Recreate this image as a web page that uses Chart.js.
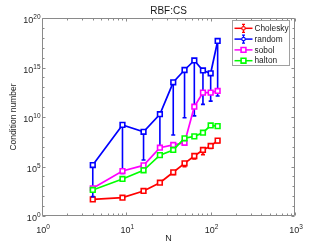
<!DOCTYPE html>
<html><head><meta charset="utf-8">
<script src="https://cdn.jsdelivr.net/npm/chart.js@4.4.1/dist/chart.umd.min.js"></script>
<style>html,body{margin:0;padding:0;background:#fff;}canvas{display:block;}</style>
</head><body>
<canvas id="c" width="327" height="245"></canvas>
<script>
// ---- data ----
const nValues = [4, 9, 16, 25, 36, 49, 64, 81, 100, 121];
const seriesNames = ['Cholesky', 'random', 'sobol', 'halton'];
const cholesky     = [48, 71, 340, 2.3e3, 2.6e4, 2.1e5, 1.15e6, 4.7e6, 1.2e7, 4.1e7];
const choleskyLow  = [40, 60, 280, 1.8e3, 1.6e4, 9.5e4, 5.8e5, 1.6e6, 6.8e6, 2.5e7];
const choleskyHigh = [60, 90, 430, 2.9e3, 3.3e4, 2.7e5, 1.5e6, 6.0e6, 1.5e7, 5.2e7];
const random       = [1.4e5, 1.6e9, 3.2e8, 1.9e10, 3.2e13, 5.6e14, 5.2e15, 5.0e14, 2.6e14, 4.8e17];
const randomLow    = [90, 2.0e4, 4.6e5, 8.0e6, 1.5e8, 8.5e9, 1.3e10, 1.9e11, 4.0e11, 1.3e12];
const randomHigh   = [1.8e5, 2.0e9, 4.1e8, 2.4e10, 4.1e13, 7.1e14, 6.6e15, 6.4e14, 3.3e14, 6.1e17];
const sobol        = [630, 3.5e4, 1.3e5, 8.0e6, 1.5e7, 2.5e7, 1.1e11, 2.9e12, 2.9e12, 4.3e12];
const halton       = [430, 5.5e3, 4.1e4, 1.4e6, 4.7e6, 7.1e7, 1.1e8, 2.6e8, 1.4e9, 1.2e9];
const xTickValues = [1, 10, 100, 1000];
const xTickExponents = ['0', '1', '2', '3'];
const yTickValues = [1, 1e5, 1e10, 1e15, 1e20];
const yTickExponents = ['0', '5', '10', '15', '20'];
const tickBase = '10';

const FONT = "'Liberation Sans', Arial, Helvetica, sans-serif";
const colors = ['#ff0000', '#0000ff', '#ff00ff', '#00ff00'];
const pts = arr => nValues.map((n, i) => ({x: n, y: arr[i]}));

function mkSet(i, arr, extra) {
  return Object.assign({
    label: seriesNames[i], data: pts(arr),
    borderColor: colors[i], backgroundColor: '#ffffff',
    pointBackgroundColor: '#ffffff', pointBorderColor: colors[i],
    pointStyle: 'rect', pointRadius: 3.3, pointBorderWidth: 1.6,
    borderWidth: 1.7, tension: 0, fill: false, order: 4 - i
  }, extra || {});
}

// axes box with inward ticks (MATLAB style)
const frame = {
  id: 'frame',
  beforeDatasetsDraw(chart) {
    const {ctx, chartArea: a, scales: {x, y}} = chart;
    ctx.save();
    ctx.strokeStyle = '#8a8a8a';
    ctx.lineWidth = 1;
    const L = Math.round(a.left) + 0.5, R = Math.round(a.right) - 0.5;
    const T = Math.round(a.top) + 0.5, B = Math.round(a.bottom) - 0.5;
    ctx.beginPath();
    ctx.rect(L, T, R - L, B - T);
    for (let e = 0; e <= 20; e++) {
      const py = Math.round(y.getPixelForValue(Math.pow(10, e))) + 0.5;
      const len = e % 5 === 0 ? 3 : 2;
      ctx.moveTo(L, py); ctx.lineTo(L + len, py);
      ctx.moveTo(R, py); ctx.lineTo(R - len, py);
    }
    for (let d = 0; d <= 3; d++) {
      for (let m = 1; m <= 9; m++) {
        if (d === 3 && m > 1) break;
        const px = Math.round(x.getPixelForValue(m * Math.pow(10, d))) + 0.5;
        const len = m === 1 ? 3 : 2;
        ctx.moveTo(px, B); ctx.lineTo(px, B - len);
        ctx.moveTo(px, T); ctx.lineTo(px, T + len);
      }
    }
    ctx.stroke();
    ctx.restore();
  }
};

// tick labels "10^k" with a raised exponent, placed at the scale's own ticks
const powerLabels = {
  id: 'powerLabels',
  afterDraw(chart) {
    const {ctx, scales: {x, y}} = chart;
    ctx.save();
    ctx.fillStyle = '#262626';
    ctx.textBaseline = 'alphabetic';
    ctx.textAlign = 'left';
    const big = '9px ' + FONT, small = '6.5px ' + FONT;
    y.ticks.forEach((t, i) => {
      const py = y.getPixelForValue(t.value);
      const ex = yTickExponents[i];
      ctx.font = small; const we = ctx.measureText(ex).width;
      ctx.font = big; const wb = ctx.measureText(tickBase).width;
      const xe = 40.5;
      ctx.fillText(tickBase, xe - we - wb, py + 5.3);
      ctx.font = small; ctx.fillText(ex, xe - we, py + 1.2);
    });
    x.ticks.forEach((t, i) => {
      const px = x.getPixelForValue(t.value);
      const ex = xTickExponents[i];
      ctx.font = small; const we = ctx.measureText(ex).width;
      ctx.font = big; const wb = ctx.measureText(tickBase).width;
      const x0 = px + 1 - (we + wb) / 2;
      ctx.fillText(tickBase, x0, 233.3);
      ctx.font = small; ctx.fillText(ex, x0 + wb, 229.2);
    });
    ctx.restore();
  }
};

// vertical error bars drawn from the dataset's low/high arrays via the y scale
const errorBars = {
  id: 'errorBars',
  beforeDatasetDraw(chart, args) {
    const ds = chart.data.datasets[args.index];
    if (!ds.errLow) return;
    const ctx = chart.ctx, ys = chart.scales.y;
    ctx.save();
    ctx.strokeStyle = ds.borderColor;
    ctx.lineWidth = 1.6;
    args.meta.data.forEach((pt, i) => {
      const yl = ys.getPixelForValue(ds.errLow[i]);
      const yh = ys.getPixelForValue(ds.errHigh[i]);
      ctx.beginPath();
      ctx.moveTo(pt.x, yl); ctx.lineTo(pt.x, yh);
      ctx.moveTo(pt.x - 2, yl); ctx.lineTo(pt.x + 2, yl);
      ctx.moveTo(pt.x - 2, yh); ctx.lineTo(pt.x + 2, yh);
      ctx.stroke();
    });
    ctx.restore();
  }
};

// legend box inside the axes, top right
const legendBox = {
  id: 'legendBox',
  afterDatasetsDraw(chart) {
    const {ctx, chartArea: a} = chart;
    const bx = Math.round(a.right) - 63 + 0.5, by = Math.round(a.top) + 2.5, bw = 57, bh = 45;
    ctx.save();
    ctx.fillStyle = '#ffffff';
    ctx.strokeStyle = '#a0a0a0';
    ctx.lineWidth = 1;
    ctx.fillRect(bx, by, bw, bh);
    ctx.strokeRect(bx, by, bw, bh);
    chart.data.datasets.forEach((ds, i) => {
      const yy = by + 7.8 + i * 10.8;
      const x0 = bx + 2, x1 = bx + 20, xm = bx + 11;
      ctx.strokeStyle = ds.borderColor;
      ctx.lineWidth = 1.5;
      ctx.beginPath(); ctx.moveTo(x0, yy); ctx.lineTo(x1, yy); ctx.stroke();
      if (ds.errLow) {
        ctx.lineWidth = 1.2;
        ctx.beginPath();
        ctx.moveTo(xm, yy - 4); ctx.lineTo(xm, yy + 4);
        ctx.moveTo(xm - 1.5, yy - 4); ctx.lineTo(xm + 1.5, yy - 4);
        ctx.moveTo(xm - 1.5, yy + 4); ctx.lineTo(xm + 1.5, yy + 4);
        ctx.stroke();
        ctx.fillStyle = '#ffffff';
        ctx.lineWidth = 1;
        ctx.beginPath(); ctx.rect(xm - 1.5, yy - 1.5, 3, 3); ctx.fill(); ctx.stroke();
      } else {
        ctx.fillStyle = '#ffffff';
        ctx.lineWidth = 1.6;
        ctx.beginPath(); ctx.rect(xm - 2.4, yy - 2.4, 4.8, 4.8); ctx.fill(); ctx.stroke();
      }
      ctx.fillStyle = '#1a1a1a';
      ctx.font = '8.3px ' + FONT;
      ctx.textBaseline = 'middle';
      ctx.textAlign = 'left';
      ctx.fillText(ds.label, bx + 22, yy + 0.5);
    });
    ctx.restore();
  }
};

new Chart(document.getElementById('c'), {
  type: 'line',
  data: {
    datasets: [
      mkSet(0, cholesky, {errLow: choleskyLow, errHigh: choleskyHigh}),
      mkSet(1, random, {errLow: randomLow, errHigh: randomHigh}),
      mkSet(2, sobol),
      mkSet(3, halton)
    ]
  },
  options: {
    responsive: false, animation: false, devicePixelRatio: 1,
    layout: {padding: {left: 0, right: 32, top: 0, bottom: 0}},
    plugins: {
      legend: {display: false},
      tooltip: {enabled: false},
      title: {display: true, text: 'RBF:CS', fullSize: false, color: '#1a1a1a',
        font: {family: FONT, size: 10, weight: 'normal'}, padding: {top: 5, bottom: 1}}
    },
    scales: {
      x: {
        type: 'logarithmic', min: 1, max: 1000,
        grid: {display: false, drawTicks: false}, border: {display: false},
        afterBuildTicks: s => { s.ticks = xTickValues.map(v => ({value: v})); },
        afterFit: s => { s.height = 29; },
        ticks: {display: false, autoSkip: false},
        title: {display: true, text: 'N', color: '#262626',
          font: {family: FONT, size: 9}, padding: {top: 0, bottom: 1.1}}
      },
      y: {
        type: 'logarithmic', min: 1, max: 1e20,
        grid: {display: false, drawTicks: false}, border: {display: false},
        afterBuildTicks: s => { s.ticks = yTickValues.map(v => ({value: v})); },
        afterFit: s => { s.width = 42; },
        ticks: {display: false, autoSkip: false},
        title: {display: true, text: 'Condition number', color: '#262626',
          font: {family: FONT, size: 8.5}, padding: {top: 8.2, bottom: 0}}
      }
    }
  },
  plugins: [frame, errorBars, legendBox, powerLabels]
});
</script>
</body></html>
